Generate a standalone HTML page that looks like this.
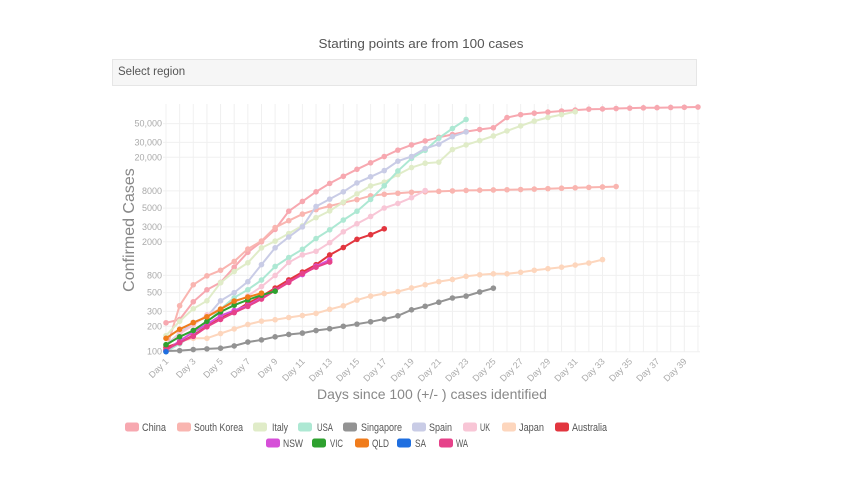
<!DOCTYPE html>
<html><head><meta charset="utf-8"><style>
body{margin:0;background:#fff;width:842px;height:473px;overflow:hidden;font-family:"Liberation Sans",sans-serif}
</style></head><body>
<svg id="s" width="842" height="473" xmlns="http://www.w3.org/2000/svg" font-family="Liberation Sans, sans-serif">
<text x="421" y="48" text-anchor="middle" font-size="12.5" fill="#555" textLength="205" lengthAdjust="spacingAndGlyphs">Starting points are from 100 cases</text>
<rect x="112.5" y="59.5" width="584" height="26" fill="#f6f6f6" stroke="#e6e6e6"/>
<text x="118" y="75" font-size="11.5" fill="#555">Select region</text>
<g id="g"></g>
</svg>
<script>
var NS="http://www.w3.org/2000/svg",g=document.getElementById('g');
function el(t,a,txt){var e=document.createElementNS(NS,t);for(var k in a)e.setAttribute(k,a[k]);if(txt!=null)e.textContent=txt;g.appendChild(e);return e;}
function X(d){return 166+(d-1)*13.64;}
function Y(v){return 351.7-(Math.log10(v)-2)*84.5;}
for(var d=1;d<=40;d++)el('line',{x1:X(d),x2:X(d),y1:104,y2:352,stroke:'#f0f0f0','stroke-width':1});
var ticks=[[100,'100'],[200,'200'],[300,'300'],[500,'500'],[800,'800'],[2000,'2000'],[3000,'3000'],[5000,'5000'],[8000,'8000'],[20000,'20,000'],[30000,'30,000'],[50000,'50,000']];
ticks.forEach(function(t){el('line',{x1:163,x2:700,y1:Y(t[0]),y2:Y(t[0]),stroke:'#f0f0f0'});el('text',{x:162,y:Y(t[0])+3,'text-anchor':'end','font-size':9,fill:'#aaa'},t[1]);});
for(var d=1;d<=39;d+=2){var x=X(d),y=358;el('text',{x:x+3,y:y+4,'text-anchor':'end','font-size':9,fill:'#aaa',transform:'rotate(-45 '+(x+3)+' '+(y+4)+')'},'Day '+d);}
el('text',{x:432,y:399,'text-anchor':'middle','font-size':14,fill:'#888'},'Days since 100 (+/- ) cases identified');
el('text',{x:134,y:230,'text-anchor':'middle','font-size':16,fill:'#888',transform:'rotate(-90 134 230)'},'Confirmed Cases');
var S=[
['#f7a8b0',[220,240,390,540,660,1000,1500,2000,2800,4600,6000,7800,9800,11900,14400,17200,20400,24300,28000,31200,34500,37200,40200,42600,44700,59000,63900,66500,68500,70500,72400,74200,74600,75500,76300,76900,77200,77700,78100,78600]],
['#f9b5b0',[104,350,620,790,920,1170,1640,2040,2950,3550,4250,4800,5300,5800,6300,7000,7300,7500,7700,7800,7900,8000,8100,8150,8200,8250,8300,8400,8500,8600,8700,8800,8900,9000]],
['#e0ecc8',[155,229,322,400,655,888,1128,1694,2036,2502,3089,3858,4636,5883,7375,9172,10149,12462,15113,17000,17500,24700,27980,31506,35713,41035,47021,53578,59138,63927,69176]],
['#ade8d3',[100,124,158,221,319,435,541,704,1020,1301,1630,2183,2770,3613,4596,6344,9197,13779,19367,24192,33592,43781,56000]],
['#c9cce6',[120,165,222,259,400,500,673,1073,1695,2277,3000,5232,6391,7798,9942,11748,13910,17963,20410,25374,28603,35136,39885]],
['#f8c6d6',[115,163,206,273,321,382,456,590,798,1140,1400,1543,1950,2626,3269,3983,5018,5683,6650,8077]],
['#fdd6bd',[105,132,144,144,164,186,210,230,239,254,268,284,317,349,408,455,488,514,568,620,675,716,780,814,835,835,870,920,960,1000,1060,1120,1230]],
['#939393',[102,103,106,108,110,117,130,138,150,160,166,178,187,200,212,226,243,266,313,345,385,432,455,509,565]],
['#e2363f',[112,128,156,200,249,298,375,453,566,708,876,1071,1396,1709,2136,2423,2850]],
['#d64fd8',[103,134,171,210,267,307,353,436,535,669,818,1029,1219]],
['#e6428a',[106,128,152,197,241,290,344,420,530,660,840,1000,1150]],
['#2ea12f',[121,150,178,229,296,355,411,466,520]],
['#f07c1c',[144,184,221,259,319,397,443,493]],
['#1f6fe0',[100]]
];
S.forEach(function(s){var c=s[0],v=s[1],p=v.map(function(a,i){return X(i+1).toFixed(1)+','+Y(a).toFixed(1)}).join(' ');
el('polyline',{points:p,fill:'none',stroke:c,'stroke-width':2});
v.forEach(function(a,i){el('circle',{cx:X(i+1),cy:Y(a),r:2.8,fill:c});});});
var L=[['#f7a8b0','China',125,142,24,427],['#f9b5b0','South Korea',177,194,49,427],['#e0ecc8','Italy',253,272,16,427],['#ade8d3','USA',298,317,16,427],['#939393','Singapore',343,361,41,427],['#c9cce6','Spain',412,429,23,427],['#f8c6d6','UK',463,480,10,427],['#fdd6bd','Japan',502,519,25,427],['#e2363f','Australia',555,572,35,427],
['#d64fd8','NSW',266,283,20,443],['#2ea12f','VIC',312,330,13,443],['#f07c1c','QLD',355,372,17,443],['#1f6fe0','SA',397,415,11,443],['#e6428a','WA',439,456,12,443]];
L.forEach(function(l){el('rect',{x:l[2],y:l[5]-4.5,width:14,height:9,rx:2.5,fill:l[0]});el('text',{x:l[3],y:l[5]+4,'font-size':11,fill:'#555',textLength:l[4],lengthAdjust:'spacingAndGlyphs'},l[1]);});
</script>
</body></html>
